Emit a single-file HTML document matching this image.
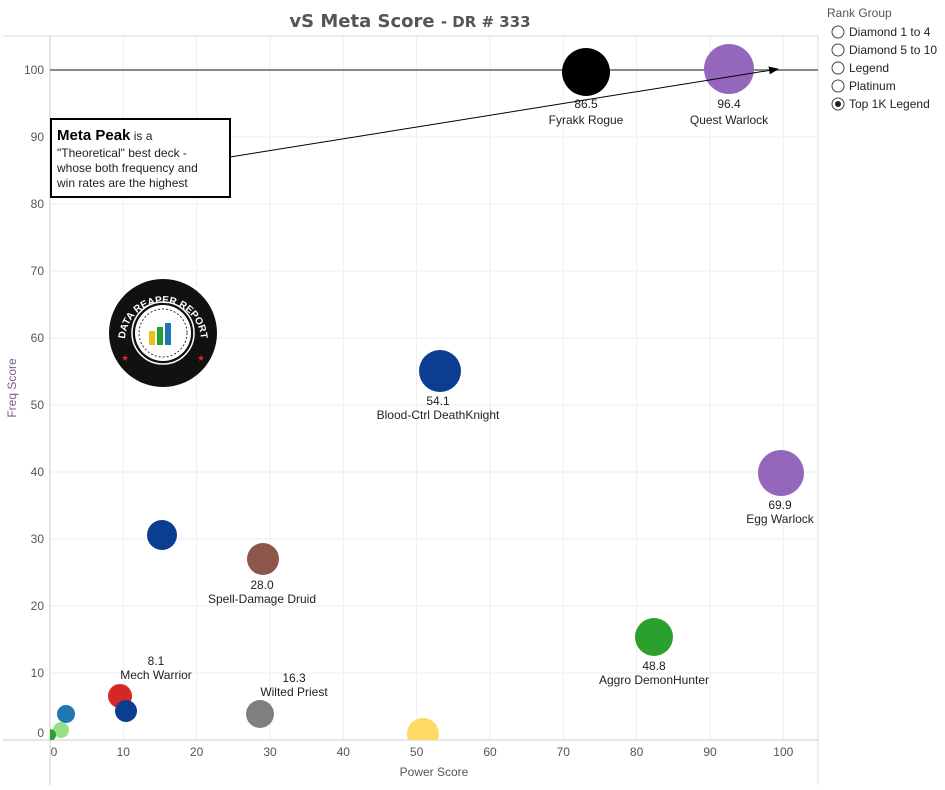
<!DOCTYPE html>
<html><head><meta charset="utf-8"><style>
body{margin:0;background:#fff;}
svg text{font-family:"Liberation Sans",sans-serif;}
</style></head><body>
<svg width="945" height="785" xmlns="http://www.w3.org/2000/svg">
<defs><clipPath id="pc"><rect x="50" y="36" width="768" height="704"/></clipPath>
<marker id="ah" markerWidth="10" markerHeight="8" refX="9" refY="4" orient="auto"><path d="M0,0 L10,4 L0,8 Z" fill="#000"/></marker>
<path id="arc" d="M-38,8 A38,38 0 0,1 38,8"/></defs>
<text x="410" y="27" text-anchor="middle" font-size="18" font-weight="bold" fill="#555" style="font-family:'DejaVu Sans',sans-serif">vS Meta Score <tspan font-size="15">- DR # 333</tspan></text>
<line x1="3" y1="36" x2="818" y2="36" stroke="#ddd"/>
<line x1="818" y1="36" x2="818" y2="785" stroke="#ddd"/>
<g stroke="#eee">
<line x1="123.3" y1="36" x2="123.3" y2="740"/><line x1="196.6" y1="36" x2="196.6" y2="740"/><line x1="270" y1="36" x2="270" y2="740"/><line x1="343.3" y1="36" x2="343.3" y2="740"/><line x1="416.6" y1="36" x2="416.6" y2="740"/><line x1="490" y1="36" x2="490" y2="740"/><line x1="563.3" y1="36" x2="563.3" y2="740"/><line x1="636.6" y1="36" x2="636.6" y2="740"/><line x1="710" y1="36" x2="710" y2="740"/><line x1="783.3" y1="36" x2="783.3" y2="740"/>
<line x1="50" y1="673" x2="818" y2="673"/><line x1="50" y1="606" x2="818" y2="606"/><line x1="50" y1="539" x2="818" y2="539"/><line x1="50" y1="472" x2="818" y2="472"/><line x1="50" y1="405" x2="818" y2="405"/><line x1="50" y1="338" x2="818" y2="338"/><line x1="50" y1="271" x2="818" y2="271"/><line x1="50" y1="204" x2="818" y2="204"/><line x1="50" y1="137" x2="818" y2="137"/>
</g>
<line x1="3" y1="740" x2="818" y2="740" stroke="#ccc"/>
<line x1="50" y1="36" x2="50" y2="785" stroke="#ccc"/>
<line x1="50" y1="70" x2="818" y2="70" stroke="#888" stroke-width="2"/>
<g font-size="12" fill="#555" text-anchor="end">
<text x="44" y="74">100</text><text x="44" y="141">90</text><text x="44" y="208">80</text><text x="44" y="275">70</text><text x="44" y="342">60</text><text x="44" y="409">50</text><text x="44" y="476">40</text><text x="44" y="543">30</text><text x="44" y="610">20</text><text x="44" y="677">10</text><text x="44" y="737">0</text>
</g>
<g font-size="12" fill="#555" text-anchor="middle">
<text x="54" y="756">0</text><text x="123.3" y="756">10</text><text x="196.6" y="756">20</text><text x="270" y="756">30</text><text x="343.3" y="756">40</text><text x="416.6" y="756">50</text><text x="490" y="756">60</text><text x="563.3" y="756">70</text><text x="636.6" y="756">80</text><text x="710" y="756">90</text><text x="783.3" y="756">100</text>
</g>
<text x="434" y="776" font-size="12" fill="#555" text-anchor="middle">Power Score</text>
<text transform="translate(16,388) rotate(-90)" font-size="12" fill="#7a5c8a" text-anchor="middle">Freq Score</text>
<g clip-path="url(#pc)">
<circle cx="586" cy="72" r="24" fill="#000"/>
<circle cx="729" cy="69" r="25" fill="#9467bd"/>
<circle cx="440" cy="371" r="21" fill="#0b3d91"/>
<circle cx="781" cy="473" r="23" fill="#9467bd"/>
<circle cx="162" cy="535" r="15" fill="#0b3d91"/>
<circle cx="263" cy="559" r="16" fill="#8c564b"/>
<circle cx="654" cy="637" r="19" fill="#2ca02c"/>
<circle cx="120" cy="696" r="12" fill="#d62728"/>
<circle cx="126" cy="711" r="11" fill="#0b3d91"/>
<circle cx="260" cy="714" r="14" fill="#7f7f7f"/>
<circle cx="66" cy="714" r="9" fill="#1f77b4"/>
<circle cx="61" cy="730" r="8" fill="#98df8a"/>
<circle cx="50" cy="735" r="6" fill="#2ca02c"/>
<circle cx="423" cy="734" r="16" fill="#ffd966"/>
</g>
<g font-size="12" fill="#222" text-anchor="middle">
<text x="586" y="108">86.5</text><text x="586" y="124">Fyrakk Rogue</text>
<text x="729" y="108">96.4</text><text x="729" y="124">Quest Warlock</text>
<text x="438" y="405">54.1</text><text x="438" y="419">Blood-Ctrl DeathKnight</text>
<text x="780" y="509">69.9</text><text x="780" y="523">Egg Warlock</text>
<text x="262" y="589">28.0</text><text x="262" y="603">Spell-Damage Druid</text>
<text x="654" y="670">48.8</text><text x="654" y="684">Aggro DemonHunter</text>
<text x="156" y="665">8.1</text><text x="156" y="679">Mech Warrior</text>
<text x="294" y="682">16.3</text><text x="294" y="696">Wilted Priest</text>
</g>
<line x1="230" y1="157" x2="778" y2="69" stroke="#000" stroke-width="1" marker-end="url(#ah)"/>
<rect x="51" y="119" width="179" height="78" fill="#fff" stroke="#000" stroke-width="2"/>
<text x="57" y="140" font-size="12" fill="#222"><tspan font-size="15" font-weight="bold" fill="#000">Meta Peak</tspan> is a</text>
<text x="57" y="157" font-size="12" fill="#222">"Theoretical" best deck -</text>
<text x="57" y="172" font-size="12" fill="#222">whose both frequency and</text>
<text x="57" y="187" font-size="12" fill="#222">win rates are the highest</text>
<g transform="translate(163,333)">
<circle r="54" fill="#111"/>
<circle r="28" fill="#fff"/>
<circle r="24" fill="none" stroke="#333" stroke-width="1" stroke-dasharray="2 2"/>
<circle r="31" fill="none" stroke="#fff" stroke-width="1.5"/>
<rect x="-14" y="-2" width="6" height="14" fill="#e8c21c"/>
<rect x="-6" y="-6" width="6" height="18" fill="#2aa02a"/>
<rect x="2" y="-10" width="6" height="22" fill="#1f77b4"/>
<text font-size="10" font-weight="bold" fill="#fff" text-anchor="middle"><textPath href="#arc" startOffset="50%">DATA REAPER REPORT</textPath></text>
<text x="-42" y="28" font-size="9" fill="#d62728">★</text><text x="34" y="28" font-size="9" fill="#d62728">★</text>
</g>
<text x="827" y="17" font-size="12" fill="#555">Rank Group</text>
<g font-size="12" fill="#222">
<circle cx="838" cy="32" r="6" fill="#fff" stroke="#444"/><text x="849" y="36">Diamond 1 to 4</text>
<circle cx="838" cy="50" r="6" fill="#fff" stroke="#444"/><text x="849" y="54">Diamond 5 to 10</text>
<circle cx="838" cy="68" r="6" fill="#fff" stroke="#444"/><text x="849" y="72">Legend</text>
<circle cx="838" cy="86" r="6" fill="#fff" stroke="#444"/><text x="849" y="90">Platinum</text>
<circle cx="838" cy="104" r="6" fill="#fff" stroke="#444"/><circle cx="838" cy="104" r="3" fill="#222"/><text x="849" y="108">Top 1K Legend</text>
</g>
</svg>
</body></html>
